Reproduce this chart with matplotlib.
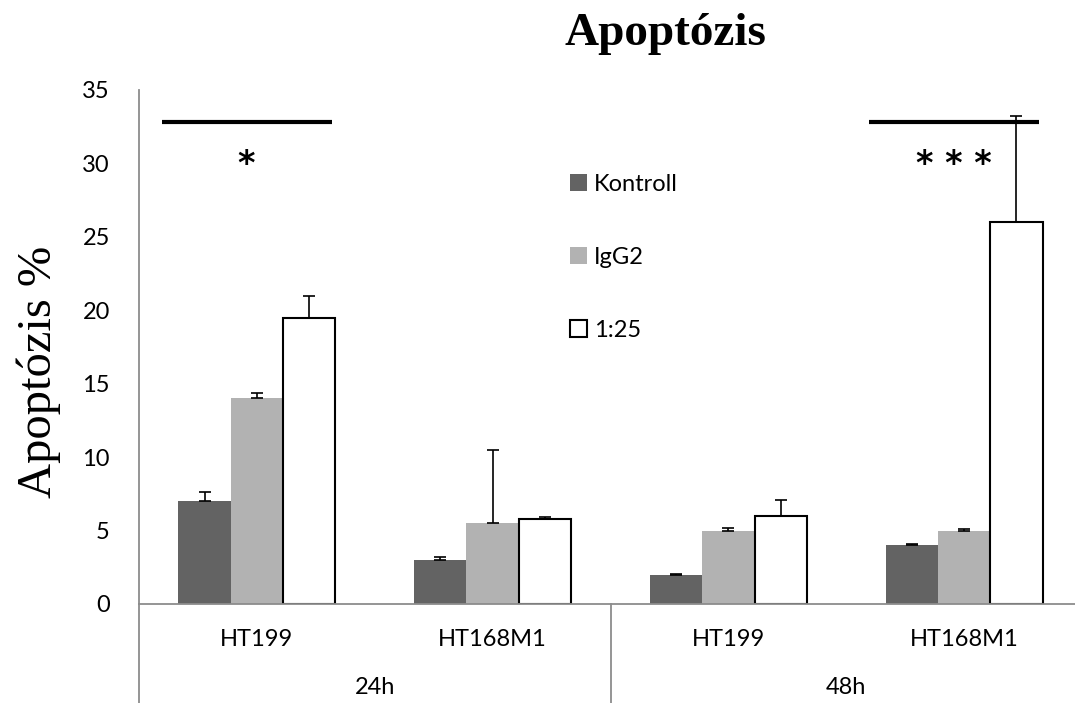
import numpy as np
import matplotlib.pyplot as plt
from matplotlib.transforms import blended_transform_factory

# data
cells = ['HT199', 'HT168M1', 'HT199', 'HT168M1']
times = ['24h', '48h']
series = ['Kontroll', 'IgG2', '1:25']
kontroll = [7.0, 3.0, 2.0, 4.0]
igg2 = [14.0, 5.5, 5.0, 5.0]
dil = [19.5, 5.8, 6.0, 26.0]
kontroll_err = [0.6, 0.2, 0.05, 0.1]
igg2_err = [0.4, 5.0, 0.2, 0.1]
dil_err = [1.5, 0.1, 1.1, 7.2]
sig_groups = [0, 3]
sig_marks = ['*', '* * *']
sig_level = 32.8

plt.rcParams['font.family'] = ['Lato', 'DejaVu Sans']

fig = plt.figure(figsize=(10.75, 7.03), dpi=100)
ax = fig.add_axes([139 / 1075, 1 - 604 / 703, 943 / 1075, 514 / 703])

x = np.arange(len(cells))
w = 0.222
vals = [kontroll, igg2, dil]
errs = [kontroll_err, igg2_err, dil_err]
faces = ['#636363', '#b2b2b2', 'white']
edges = ['none', 'none', 'black']
lws = [0, 0, 1.5]
for k in range(3):
    e = np.array(errs[k])
    ax.bar(x + (k - 1) * w, vals[k], w, color=faces[k], edgecolor=edges[k],
           linewidth=lws[k], label=series[k], zorder=2,
           yerr=[np.zeros_like(e), e],
           error_kw=dict(ecolor='black', elinewidth=1.2, capsize=4.5, capthick=1.2))

# significance lines and stars
for g, m in zip(sig_groups, sig_marks):
    ax.plot([g - 1.5 * w - 0.07, g + 1.5 * w - 0.014], [sig_level, sig_level],
            color='black', lw=3, solid_capstyle='butt', zorder=3)
    ax.text(g - 0.045, 29.9, m, ha='center', va='center', fontsize=24,
            fontweight='bold', family='DejaVu Sans', zorder=3)

ax.set_xlim(-0.5, len(cells) - 0.5)
ax.set_ylim(0, 35)
ax.set_yticks(np.arange(0, 36, 5))
ax.tick_params(axis='y', length=0, pad=21, labelsize=17)
ax.set_xticks([])
for s in ['top', 'right']:
    ax.spines[s].set_visible(False)
for s in ['left', 'bottom']:
    ax.spines[s].set_color('#8c8c8c')
    ax.spines[s].set_linewidth(1.3)
ax.spines['left'].set_zorder(1)

# two-level category axis
tr = blended_transform_factory(ax.transData, ax.transAxes)
for i, c in enumerate(cells):
    ax.text(i, -0.07, c, transform=tr, ha='center', va='center', fontsize=17)
for j, t in enumerate(times):
    ax.text(2 * j + 0.5, -0.163, t, transform=tr, ha='center', va='center', fontsize=17)
for xb in [-0.5, 1.5]:
    ax.plot([xb, xb], [0, -0.2], transform=tr, color='#8c8c8c', lw=1.3, clip_on=False)

fig.text(665 / 1075, 1 - 45 / 703, 'Apoptózis', ha='center', va='baseline',
         fontsize=34, fontweight='bold', family='Liberation Serif')
fig.text(39 / 1075, 1 - 372 / 703, 'Apoptózis %', ha='center', va='center',
         rotation=90, fontsize=35, family='Liberation Serif')

ax.legend(loc='upper left', bbox_to_anchor=(570 / 1075, 1 - 174 / 703),
          bbox_transform=fig.transFigure, frameon=False, fontsize=17,
          handlelength=0.7, handleheight=0.7, handletextpad=0.3,
          labelspacing=2.2, borderpad=0, borderaxespad=0)

fig.savefig('out.png', dpi=100)
